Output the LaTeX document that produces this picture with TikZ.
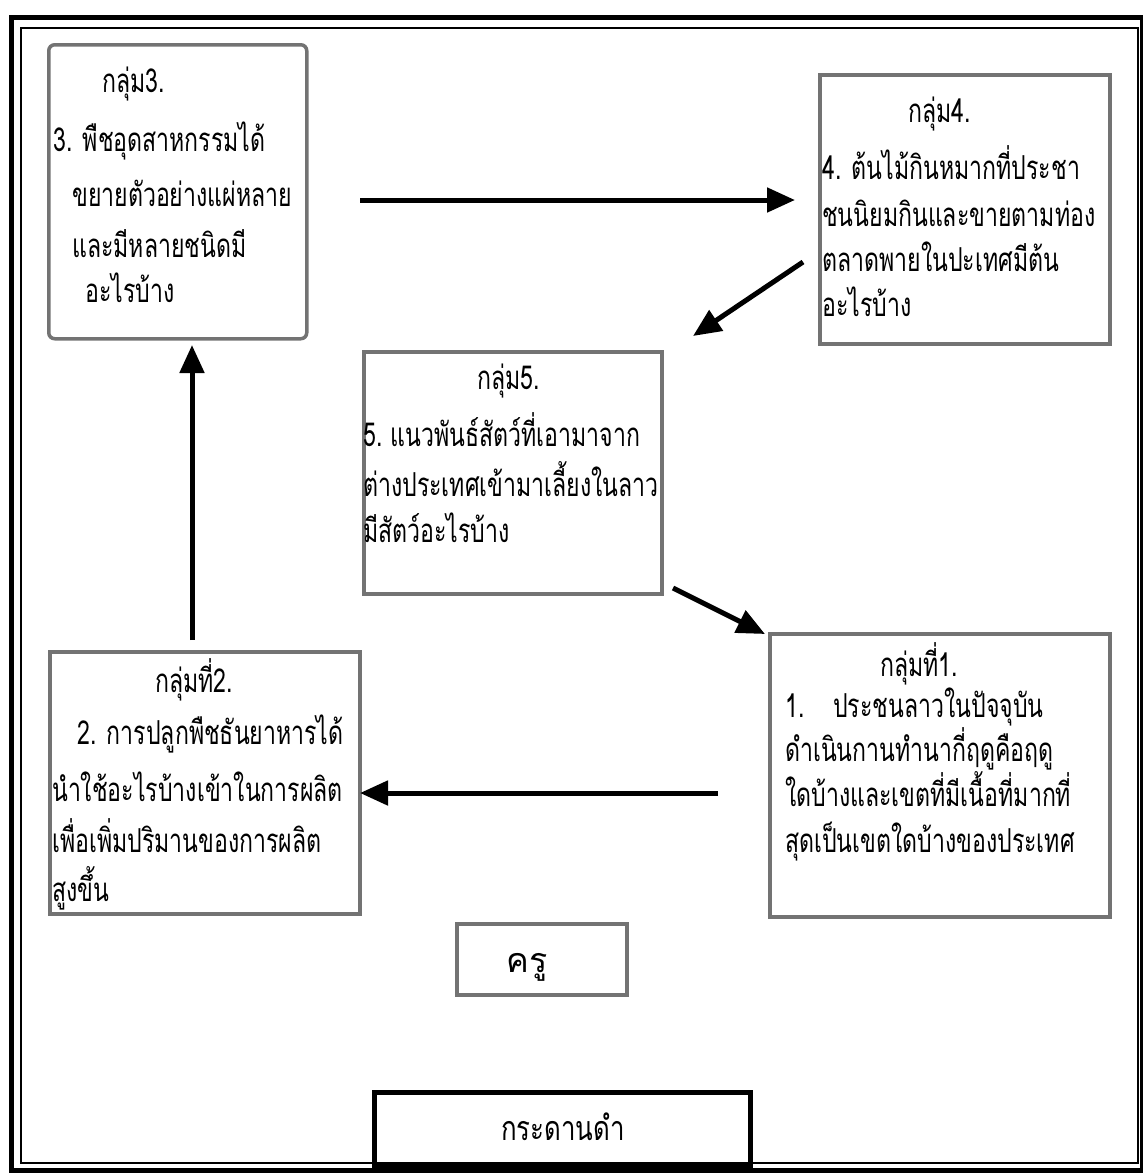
\documentclass[tikz,border=0pt]{standalone}
\usepackage{fontspec}
\newfontfamily\thaifont[Script=Thai]{Loma}
\newfontfamily\thaicond[Script=Thai, FakeStretch=0.70]{Loma}
\newfontfamily\thaicondb[Script=Thai, FakeStretch=0.76]{Loma}
\usetikzlibrary{arrows.meta}
\begin{document}
\begin{tikzpicture}[x=1pt,y=-1pt,
  box/.style={draw=black!55, line width=3.5pt, anchor=north west, inner sep=0pt},
  ln/.style={anchor=base west, inner sep=0pt, font=\thaicond\fontsize{33}{37}\selectfont},
  arr/.style={line width=5pt, -{Triangle[length=28pt,width=24pt]}},
]
\useasboundingbox (0,0) rectangle (1143,1173);
% frame
\draw[line width=5pt] (11,17) rectangle (1142,1170);
\draw[line width=2.5pt] (21,28) rectangle (1138,1163);

% boxes
\node[box, rounded corners=6pt, minimum width=258pt, minimum height=294pt] (b3) at (47,43) {};
\node[box, minimum width=290pt, minimum height=269pt] (b4) at (818,73) {};
\node[box, minimum width=298pt, minimum height=242pt] (b5) at (362,350) {};
\node[box, minimum width=310pt, minimum height=262pt] (b2) at (48,650) {};
\node[box, minimum width=340pt, minimum height=283pt] (b1) at (768,632) {};

% box 3 text
\node[ln] (t3a) at (102,92) {กลุ่ม3.};
\node[ln] (t3b) at (53,151) {3. พืชอุดสาหกรรมได้};
\node[ln] (t3c) at (72,206) {ขยายตัวอย่างแผ่หลาย};
\node[ln] (t3d) at (72,257) {และมีหลายชนิดมี};
\node[ln] (t3e) at (85,302) {อะไรบ้าง};

% box 4 text
\node[ln] (t4a) at (908,122) {กลุ่ม4.};
\node[ln] (t4b) at (822,179) {4. ต้นไม้กินหมากที่ประชา};
\node[ln] (t4c) at (822,226) {ชนนิยมกินและขายตามท่อง};
\node[ln] (t4d) at (822,271) {ตลาดพายในปะเทศมีต้น};
\node[ln] (t4e) at (822,316) {อะไรบ้าง};

% box 5 text
\node[ln] (t5a) at (477,389) {กลุ่ม5.};
\node[ln] (t5b) at (363,446) {5.\hspace{8pt}แนวพันธ์สัตว์ที่เอามาจาก};
\node[ln] (t5c) at (363,496) {ต่างประเทศเข้ามาเลี้ยงในลาว};
\node[ln] (t5d) at (363,542) {มีสัตว์อะไรบ้าง};

% box 2 text
\node[ln] (t2a) at (155,692) {กลุ่มที่2.};
\node[ln] (t2b) at (77,744) {2. การปลูกพืชธันยาหารได้};
\node[ln] (t2c) at (52,801) {นำใช้อะไรบ้างเข้าในการผลิต};
\node[ln] (t2d) at (52,852) {เพื่อเพิ่มปริมานของการผลิต};
\node[ln] (t2e) at (52,901) {สูงขึ้น};

% box 1 text
\node[ln] (t1a) at (880,676) {กลุ่มที่1.};
\node[ln] (t1n) at (785,717) {1.};
\node[ln] (t1b) at (833,717) {ประชนลาวในปัจจุบัน};
\node[ln] (t1c) at (785,761) {ดำเนินกานทำนากี่ฤดูคือฤดู};
\node[ln] (t1d) at (785,806) {ใดบ้างและเขตที่มีเนื้อที่มากที่};
\node[ln] (t1e) at (785,852) {สุดเป็นเขตใดบ้างของประเทศ};

% teacher and blackboard
\node[box, minimum width=170pt, minimum height=71pt] (kru) at (455,922) {};
\node[anchor=base, inner sep=0pt, font=\thaifont\fontsize{34}{38}\selectfont] (krut) at (527,972) {ครู};
\node[box, draw=black, line width=4.5pt, minimum width=376pt, minimum height=73pt] (board) at (372,1090) {};
\node[anchor=base, inner sep=0pt, font=\thaicondb\fontsize{34}{38}\selectfont] (boardt) at (563,1140) {กระดานดำ};

% arrows
\coordinate (a1s) at (360,200); \coordinate (a1e) at (795,200);
\coordinate (a2s) at (803,262); \coordinate (a2e) at (693,336);
\coordinate (a3s) at (673,588); \coordinate (a3e) at (765,634);
\coordinate (a4s) at (718,793); \coordinate (a4e) at (360,793);
\coordinate (a5s) at (192,640); \coordinate (a5e) at (192,345);
\draw[arr] (a1s) -- (a1e);
\draw[arr] (a2s) -- (a2e);
\draw[arr] (a3s) -- (a3e);
\draw[arr] (a4s) -- (a4e);
\draw[arr] (a5s) -- (a5e);
\end{tikzpicture}
\end{document}
